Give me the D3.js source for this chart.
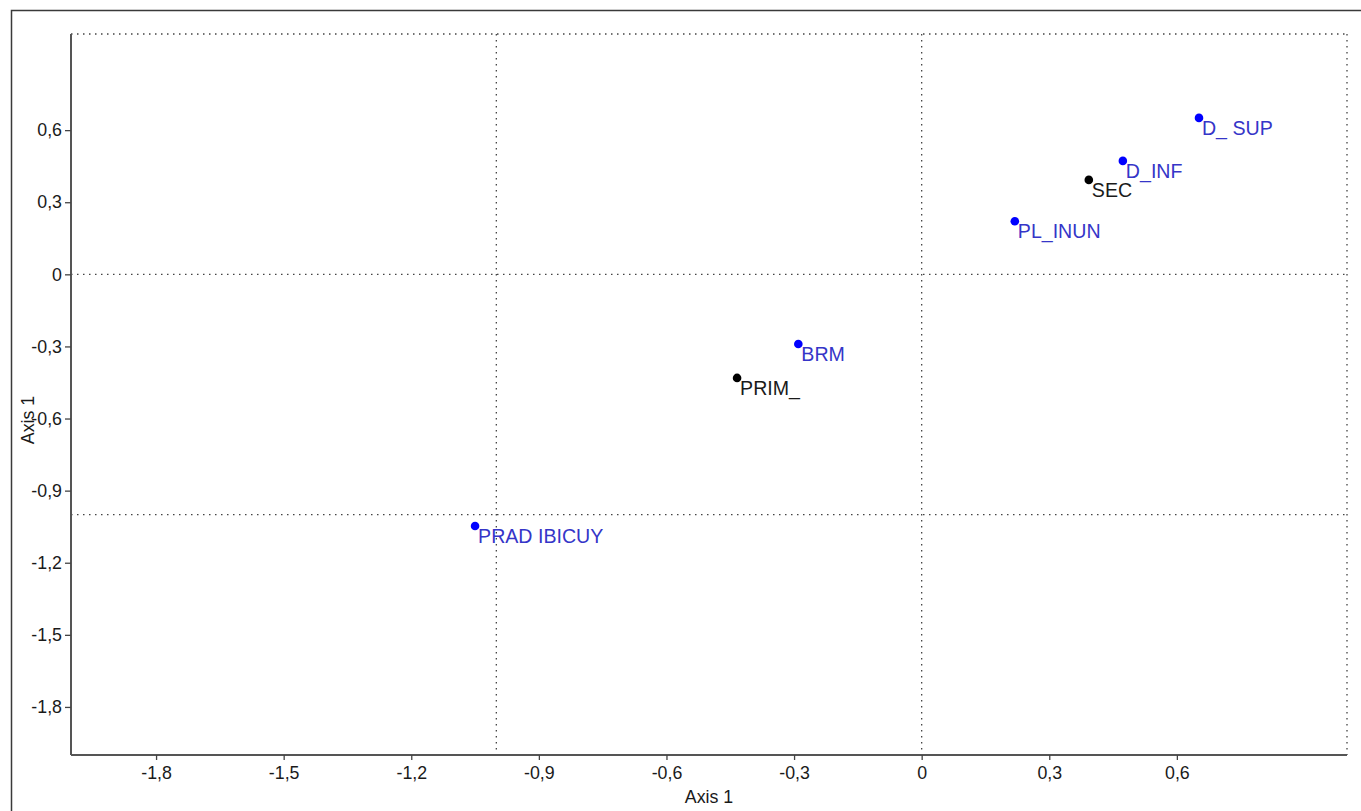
<!DOCTYPE html>
<html>
<head>
<meta charset="utf-8">
<script src="https://cdn.jsdelivr.net/npm/d3@7"></script>
<style>
  html, body { margin: 0; padding: 0; background: #fff; }
  svg { display: block; font-family: Arial, "Liberation Sans", sans-serif; }
</style>
</head>
<body>
<svg id="chart" width="1361" height="811"></svg>
<script>
// ---- data ----
const labels = ["D_ SUP", "D_INF", "SEC", "PL_INUN", "BRM", "PRIM_", "PRAD IBICUY"];
const xValues = [0.652, 0.473, 0.393, 0.219, -0.290, -0.434, -1.050];
const yValues = [0.651, 0.472, 0.393, 0.221, -0.290, -0.431, -1.047];
const groups = ["blue", "blue", "black", "blue", "blue", "black", "blue"];
const xTicks = [-1.8, -1.5, -1.2, -0.9, -0.6, -0.3, 0, 0.3, 0.6];
const yTicks = [-1.8, -1.5, -1.2, -0.9, -0.6, -0.3, 0, 0.3, 0.6];
const refLinesX = [-1, 0, 1];
const refLinesY = [-1, 0, 1];
const xTitle = "Axis 1";
const yTitle = "Axis 1";

const pointColor = { blue: "#0000ff", black: "#000000" };
const textColor = { blue: "#3535c8", black: "#1a1a1a" };

const svg = d3.select("#chart");
const mLeft = 71, mRight = 1347, mTop = 34, mBottom = 755;

const x = d3.scaleLinear().domain([-2, 1]).range([mLeft, mRight]);
const y = d3.scaleLinear().domain([-2, 1]).range([mBottom, mTop]);
const fmt = v => (v === 0 ? "0" : d3.format(".1f")(v).replace(".", ",").replace("−", "-"));

// outer frame
svg.append("rect")
  .attr("x", 11.5).attr("y", 10.5)
  .attr("width", 1400).attr("height", 900)
  .attr("fill", "none").attr("stroke", "#3a3a3a").attr("stroke-width", 1.5);

// dotted reference lines
const dots = svg.append("g").attr("stroke", "#444").attr("stroke-width", 1.3)
  .attr("stroke-dasharray", "1.5,4.5").attr("fill", "none");
refLinesX.forEach(v => {
  dots.append("line").attr("x1", x(v)).attr("x2", x(v)).attr("y1", y(1)).attr("y2", mBottom);
});
refLinesY.forEach(v => {
  dots.append("line").attr("x1", mLeft).attr("x2", x(1)).attr("y1", y(v)).attr("y2", y(v));
});

// axes
const xAxis = d3.axisBottom(x).tickValues(xTicks).tickFormat(fmt).tickSize(5).tickPadding(6);
const yAxis = d3.axisLeft(y).tickValues(yTicks).tickFormat(fmt).tickSize(6).tickPadding(3);

const gx = svg.append("g").attr("transform", `translate(0,${mBottom})`).call(xAxis);
const gy = svg.append("g").attr("transform", `translate(${mLeft},0)`).call(yAxis);
[gx, gy].forEach(g => {
  g.select(".domain").attr("stroke", "#555").attr("stroke-width", 2);
  g.selectAll(".tick line").attr("stroke", "#444").attr("stroke-width", 1.3);
  g.selectAll(".tick text").attr("fill", "#1a1a1a")
    .style("font-size", "17.8px").style("font-family", "Arial, 'Liberation Sans', sans-serif");
});
gx.select(".domain").attr("d", `M${mLeft},0H${mRight}`);
gy.select(".domain").attr("d", `M0,${mTop}V${mBottom}`);

// axis titles
svg.append("text").attr("x", (mLeft + mRight) / 2).attr("y", 803)
  .attr("text-anchor", "middle").attr("fill", "#1a1a1a").style("font-size", "17.8px").text(xTitle);
svg.append("text").attr("transform", "translate(34,420) rotate(-90)")
  .attr("text-anchor", "middle").attr("fill", "#1a1a1a").style("font-size", "17.8px").text(yTitle);

// points
const data = labels.map((l, i) => ({ label: l, x: xValues[i], y: yValues[i], g: groups[i] }));
svg.append("g").selectAll("circle").data(data).join("circle")
  .attr("cx", d => x(d.x)).attr("cy", d => y(d.y)).attr("r", 4.3)
  .attr("fill", d => pointColor[d.g]);
svg.append("g").selectAll("text").data(data).join("text")
  .attr("x", d => x(d.x) + 3).attr("y", d => y(d.y) + 17)
  .attr("fill", d => textColor[d.g]).style("font-size", "19.6px")
  .text(d => d.label);
</script>
</body>
</html>
